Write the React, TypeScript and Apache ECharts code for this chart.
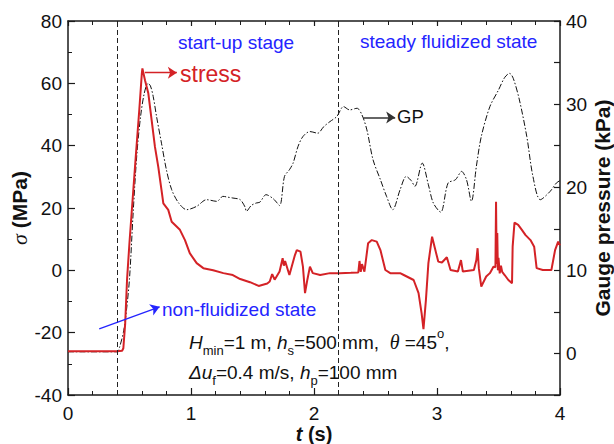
import React, { useEffect, useRef } from 'react';
import * as echarts from 'echarts';

// Stress (left axis, MPa)
const stressTime = [
  0, 0.4, 0.44, 0.45, 0.465, 0.48, 0.5, 0.55, 0.58, 0.6, 0.605, 0.626, 0.653, 0.68, 0.707, 0.734, 0.76, 0.775,
  0.815, 0.843, 0.91, 0.951, 0.99, 1.046, 1.1, 1.18, 1.263, 1.34, 1.4, 1.48, 1.55, 1.62, 1.64, 1.66, 1.68, 1.72,
  1.745, 1.755, 1.765, 1.8, 1.845, 1.86, 1.89, 1.91, 1.927, 1.946, 1.967, 1.99, 2.05, 2.13, 2.21, 2.3, 2.36, 2.37,
  2.38, 2.39, 2.41, 2.44, 2.47, 2.51, 2.54, 2.58, 2.62, 2.7, 2.73, 2.81, 2.85, 2.875, 2.89, 2.91, 2.93, 2.96,
  2.98, 3.01, 3.04, 3.08, 3.11, 3.17, 3.195, 3.21, 3.3, 3.32, 3.33, 3.34, 3.36, 3.4, 3.43, 3.46, 3.475, 3.48,
  3.485, 3.49, 3.495, 3.5, 3.51, 3.52, 3.53, 3.55, 3.58, 3.61, 3.615, 3.63, 3.66, 3.69, 3.72, 3.76, 3.79, 3.81,
  3.86, 3.93, 3.96, 3.985, 4.0,
];
const stressValues = [
  -26, -26, -25.8, -25, -17, -3, 9, 36, 51.7, 63, 64.8, 61, 56.8, 48.2, 39.6, 33.2, 25.8, 21.5,
  19.4, 15.6, 13, 9.7, 5.5, 2.3, 0.7, 0, -0.9, -1.5, -2.8, -3.8, -5, -4.2, -3.6, -1.2, -3, -0.4,
  3.9, 1.5, 3, -1.5, 4.9, 6.5, 6, 1.2, -7.3, -3, 1.2, -0.9, -1.5, -0.9, -0.9, -0.8, -0.7, 3,
  -0.5, 2, -0.4, 8.7, 9.7, 9.2, 6.5, 0.1, -0.9, -0.9, -1.5, -3.1, -7.3, -13.8, -18.9, -9.5, 2.3, 10.8,
  7.6, 2.8, 2.5, 4.2, 0.1, -0.4, 3.3, -0.4, 0.1, 3.3, 7.1, 0.7, -5.2, -2, -0.9, 1.2, 1, 22,
  2, 12, 0, 4, -1, 1.5, -0.5, -1.5, -3.1, -4.1, 7.6, 15.3, 14.6, 13, 11.3, 9.7, 7.6, 0.7,
  0.1, 0.1, 6.5, 9.2, 8,
];

// Gauge pressure (right axis, kPa)
const gpTime = [
  0, 0.4, 0.42, 0.45, 0.47, 0.5, 0.53, 0.56, 0.59, 0.62, 0.65, 0.67, 0.693, 0.72, 0.76, 0.8, 0.843, 0.9,
  0.965, 1.046, 1.127, 1.21, 1.26, 1.3, 1.34, 1.4, 1.44, 1.45, 1.49, 1.53, 1.56, 1.61, 1.67, 1.72, 1.76, 1.8,
  1.83, 1.87, 1.91, 1.967, 2.03, 2.08, 2.13, 2.185, 2.24, 2.29, 2.35, 2.39, 2.43, 2.48, 2.54, 2.59, 2.64, 2.7,
  2.75, 2.79, 2.82, 2.88, 2.93, 2.97, 3.03, 3.09, 3.15, 3.2, 3.24, 3.28, 3.32, 3.36, 3.43, 3.5, 3.55, 3.59,
  3.62, 3.67, 3.73, 3.78, 3.84, 3.92, 3.97, 4.0,
];
const gpValues = [
  0.2, 0.2, 0.8, 2.5, 4.5, 9, 17, 24, 28.5, 31.3, 32.5, 32.2, 30.9, 28.5, 25.3, 22.1, 19.7, 18.1,
  17.3, 17.7, 18.5, 18.3, 18.9, 18.8, 18.7, 18.5, 17.6, 17.1, 17.8, 18.1, 18.2, 19.1, 18.6, 17.8, 21.3, 22.1,
  22.9, 24.9, 26.1, 26.7, 26.5, 27.3, 27.9, 28.5, 29.7, 29.3, 29.5, 28.7, 26.9, 23.3, 20.9, 18.9, 17.3, 19.7,
  21.3, 20.8, 20.1, 22.9, 20.3, 18.1, 17.0, 20.5, 20.9, 21.9, 20.9, 18.3, 22.5, 26.1, 29.7, 31.7, 33.2, 33.7,
  33.1, 30.5, 26.1, 21.3, 18.5, 19.5, 20.5, 20.8,
];

const stageBoundaries = [0.4, 2.2];
const stageLabels = ['start-up stage', 'steady fluidized state', 'non-fluidized state'];

const FONT = '"Liberation Sans", Arial, sans-serif';
const RED = '#d42226';
const BLUE = '#2424ff';
const AXIS = '#1a1a1a';

function buildOption() {
  const stressData = stressTime.map((t, i) => [t, stressValues[i]]);
  const gpData = gpTime.map((t, i) => [t, gpValues[i]]);

  const axisLine = { show: true, onZero: false, lineStyle: { color: AXIS, width: 1.5 } };
  const tick = (len: number) => ({ show: true, inside: true, length: len, lineStyle: { color: AXIS, width: 1.2 } });
  const minor = (n: number, len: number) => ({ show: true, splitNumber: n, length: len, lineStyle: { color: AXIS, width: 1 } });
  const label = (margin: number, extra: any = {}) => ({
    show: true, fontSize: 19, color: '#111', fontFamily: FONT, margin, ...extra,
  });

  const textEl = (x: number, y: number, text: string, size: number, fill: string, extra: any = {}) => ({
    type: 'text', x, y, silent: true,
    style: { text, fill, fontSize: size, fontFamily: FONT, ...extra },
  });

  const richBase = {
    fontSize: 19, fontFamily: FONT, fill: '#111', lineHeight: 30,
    rich: {
      i: { fontSize: 19, fontStyle: 'italic', fontFamily: FONT, lineHeight: 30 },
      g: { fontSize: 20, fontStyle: 'italic', fontFamily: '"Liberation Serif", serif', lineHeight: 30 },
      sub: { fontSize: 13, fontFamily: FONT, lineHeight: 12, verticalAlign: 'bottom' },
      sup: { fontSize: 13, fontFamily: FONT, lineHeight: 16, verticalAlign: 'top' },
    },
  };

  return {
    animation: false,
    backgroundColor: '#fff',
    grid: { left: 68, right: 54, top: 21, bottom: 49, containLabel: false, outerBoundsMode: 'none' },
    xAxis: [
      {
        type: 'value', min: 0, max: 4, interval: 1, position: 'bottom',
        axisLine, axisTick: tick(7), minorTick: minor(5, 4),
        splitLine: { show: false }, minorSplitLine: { show: false },
        axisLabel: label(9),
        name: '{t|t} (s)', nameLocation: 'middle', nameGap: 29, nameMoveOverlap: false,
        nameTextStyle: {
          fontSize: 20, fontWeight: 'bold', fontFamily: FONT, color: '#111',
          rich: { t: { fontSize: 20, fontWeight: 'bold', fontStyle: 'italic', fontFamily: FONT, color: '#111' } },
        },
      },
      {
        type: 'value', min: 0, max: 4, interval: 1, position: 'top',
        axisLine, axisTick: tick(5), minorTick: minor(5, 4),
        splitLine: { show: false }, minorSplitLine: { show: false },
        axisLabel: { show: false },
      },
    ],
    yAxis: [
      {
        type: 'value', min: -40, max: 80, interval: 20, position: 'left',
        axisLine, axisTick: tick(7), minorTick: minor(2, 4),
        splitLine: { show: false }, minorSplitLine: { show: false },
        axisLabel: label(6),
        name: '{s|σ} (MPa)', nameLocation: 'middle', nameGap: 38, nameRotate: 90, nameMoveOverlap: false,
        nameTextStyle: {
          fontSize: 21, fontWeight: 'bold', fontFamily: FONT, color: '#111',
          rich: { s: { fontSize: 22, fontStyle: 'italic', fontWeight: 'normal', fontFamily: '"Liberation Serif", serif', color: '#111' } },
        },
      },
      {
        type: 'value', min: -5, max: 40, interval: 5, position: 'right', alignTicks: false,
        axisLine, axisTick: tick(6),
        splitLine: { show: false },
        axisLabel: label(6, { formatter: (v: number) => (Math.round(v) % 10 === 0 ? String(v) : '') }),
        name: 'Gauge pressure (kPa)', nameLocation: 'middle', nameGap: 32, nameRotate: 90, nameMoveOverlap: false,
        nameTextStyle: { fontSize: 21, fontWeight: 'bold', fontFamily: FONT, color: '#111' },
      },
    ],
    series: [
      {
        name: 'GP', type: 'line', xAxisIndex: 0, yAxisIndex: 1, data: gpData,
        showSymbol: false, symbol: 'none', smooth: 0.3, z: 2,
        lineStyle: { color: '#111', width: 1, type: [6, 2, 1.5, 2] },
        markLine: {
          silent: true, symbol: ['none', 'arrow'], symbolSize: 9, label: { show: false },
          lineStyle: { color: '#333', width: 1.5, type: 'solid' },
          data: [[{ coord: [2.4, 28.4] }, { coord: [2.66, 28.4] }]],
        },
      },
      {
        name: 'stress', type: 'line', xAxisIndex: 0, yAxisIndex: 0, data: stressData,
        showSymbol: false, symbol: 'none', z: 3,
        lineStyle: { color: RED, width: 2 },
        markLine: {
          silent: true, symbol: ['none', 'none'], label: { show: false },
          lineStyle: { color: '#222', width: 1, type: [5, 3] },
          data: [
            ...stageBoundaries.map((b) => ({ xAxis: b })),
            [
              { coord: [0.625, 63.4], symbol: 'none', lineStyle: { color: RED, width: 1.3, type: 'solid' } },
              { coord: [0.885, 63.4], symbol: 'arrow', symbolSize: 9 },
            ],
            [
              { coord: [0.254, -18.8], symbol: 'none', lineStyle: { color: BLUE, width: 1.3, type: 'solid' } },
              { coord: [0.745, -11.7], symbol: 'arrow', symbolSize: 9 },
            ],
          ],
        },
      },
    ],
    graphic: [
      textEl(178, 33, stageLabels[0], 19, BLUE),
      textEl(360, 32, stageLabels[1], 19, BLUE),
      textEl(162, 300, stageLabels[2], 19, BLUE),
      textEl(180, 62, 'stress', 23, RED),
      textEl(397, 107, 'GP', 18.5, '#111'),
      {
        type: 'text', x: 189, y: 327, silent: true,
        style: { ...richBase, text: '{i|H}{sub|min}=1 m, {i|h}{sub|s}=500 mm,  {g|θ} =45{sup|o},' },
      },
      {
        type: 'text', x: 189, y: 357, silent: true,
        style: { ...richBase, text: '{i|Δu}{sub|f}=0.4 m/s, {i|h}{sub|p}=100 mm' },
      },
    ],
  };
}

export default function App() {
  const ref = useRef<HTMLDivElement>(null);
  useEffect(() => {
    if (!ref.current) return;
    const chart = echarts.init(ref.current, null, { renderer: 'svg' });
    chart.setOption(buildOption() as any);
    return () => chart.dispose();
  }, []);
  return <div ref={ref} style={{ position: 'absolute', left: 0, top: 0, width: 614, height: 444 }} />;
}
